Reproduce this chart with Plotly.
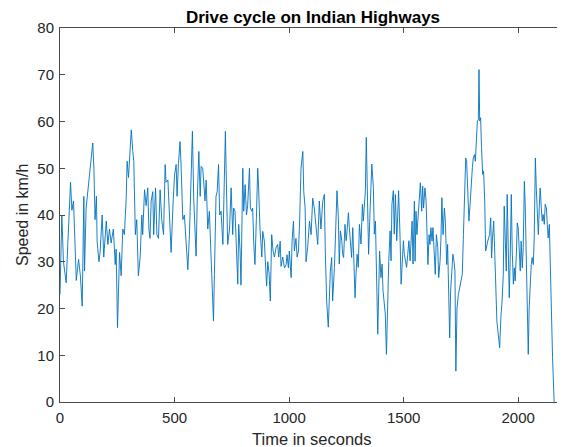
import plotly.graph_objects as go

time_s = [0, 8, 15, 27, 34, 46, 52, 59, 71, 81, 89, 97, 104, 107, 114, 121, 132, 143, 148, 153, 159, 162, 170, 175, 184, 191, 202, 209, 216, 223, 233, 241, 245, 251, 260, 267, 274, 281, 289, 293, 299, 311, 318, 322, 329, 335, 342, 350, 357, 361, 369, 376, 383,
          388, 393, 398, 405, 409, 417, 423, 430, 437, 444, 452, 459, 463, 471, 478, 485, 494, 500, 507, 511, 517, 524, 529, 536, 543, 551, 558, 565, 572, 578, 584, 590, 594, 599, 606, 612, 616, 623, 628, 633, 638, 645, 652, 657, 664, 670, 674, 681, 686, 692, 697, 703, 711, 718, 722, 725, 732, 740, 747, 754, 758, 764, 770, 776,
          780, 786, 790, 793, 798, 802, 808, 814, 819, 827, 831, 837, 841, 846, 851, 857, 863, 867, 873, 881, 885, 892, 897, 902, 907, 913, 918, 924, 930, 936, 943, 950, 955, 961, 965, 972, 980, 987, 991, 997, 1001, 1009, 1013, 1019, 1023, 1030, 1035, 1041, 1046, 1052, 1060, 1064, 1070, 1074, 1081, 1089, 1096, 1103, 1110, 1118, 1125, 1132, 1139, 1147, 1154, 1158, 1164, 1171,
          1176, 1180, 1186, 1190, 1198, 1205, 1209, 1215, 1219, 1224, 1230, 1234, 1238, 1244, 1249, 1253, 1259, 1263, 1267, 1273, 1278, 1282, 1288, 1292, 1297, 1302, 1307, 1314, 1320, 1324, 1329, 1333, 1337, 1343, 1347, 1353, 1361, 1368, 1372, 1377, 1382, 1387, 1391, 1395, 1401, 1406, 1410, 1416, 1420, 1425, 1430, 1435, 1441, 1445, 1449, 1455, 1459, 1464, 1470, 1474, 1478, 1484, 1489, 1493, 1499, 1503, 1507, 1513, 1518, 1523, 1528, 1532, 1537, 1541, 1547,
          1550, 1554, 1558, 1564, 1569, 1573, 1579, 1583, 1587, 1593, 1598, 1602, 1606, 1611, 1615, 1619, 1624, 1628, 1634, 1638, 1643, 1649, 1653, 1659, 1663, 1667, 1672, 1678, 1682, 1688, 1692, 1697, 1701, 1705, 1711, 1715, 1720, 1724, 1728, 1733, 1739, 1745, 1750, 1756, 1761, 1765, 1771, 1775, 1779, 1785, 1790, 1794, 1800, 1804, 1809, 1813, 1817, 1822, 1826, 1829, 1832, 1836, 1840, 1845, 1849, 1854, 1858, 1862, 1867, 1871, 1875, 1880, 1884, 1888, 1893, 1897, 1902, 1907, 1913, 1919,
          1925, 1929, 1935, 1939, 1944, 1948, 1952, 1957, 1961, 1965, 1970, 1974, 1979, 1983, 1987, 1992, 1996, 2000, 2005, 2009, 2013, 2018, 2022, 2027, 2031, 2035, 2040, 2044, 2048, 2053, 2057, 2061, 2066, 2070, 2075, 2079, 2083, 2088, 2092, 2096, 2101, 2105, 2109, 2114, 2118, 2123, 2127, 2131, 2136, 2140, 2144, 2150, 2157]

speed_kmh = [23, 40, 30, 25.5, 33.7, 47, 41, 43, 26, 30.5, 27, 20.5, 44, 28, 41.5, 45, 50, 55.4, 50, 39, 44, 34.4, 30, 32, 40, 31, 38.7, 33.7, 37, 34, 37, 29.4, 32.7, 15.9, 32, 27, 37, 35.8, 43.6, 51.5, 48, 58.2, 53.6, 51.5, 35.8, 39, 27, 31, 40, 35.8, 45.4, 42, 45.8,
             37, 35, 43, 45, 35.8, 45.8, 35.8, 35, 45.4, 39, 35.8, 50.8, 47, 47.5, 39, 32, 43, 48.6, 50.8, 44, 51, 55.7, 50, 39, 40, 34.4, 28.3, 35.8, 50, 57.9, 43, 34.4, 31.2, 43, 53.6, 44, 50.4, 50, 45.8, 43, 47.5, 37, 40.8, 34.4, 27.3, 17.3, 27.3, 44, 45, 50.8, 40, 40.8, 33.7, 54.3, 57.9, 50, 33.7, 37, 45.8, 35.8, 41.5, 40.8, 34.4, 25.2,
             38, 32.3, 25, 37, 50, 40.8, 46.5, 40, 42, 50, 41.5, 40.8, 41.5, 33.7, 29.4, 39, 50, 45.8, 37, 31, 36.5, 34.4, 28.7, 24.8, 30, 27.3, 21.6, 35.8, 32.3, 31, 33, 33.7, 31, 34.4, 29, 31, 28.7, 29.4, 31.5, 28.7, 32.3, 26.6, 34.4, 38.7, 32.3, 35, 31, 32.3, 38.7, 50, 53.6, 45, 41.5, 30, 33, 38.7, 35.8, 43.6, 41.5, 38, 33.7, 43, 37, 43, 44.4, 32.3, 21.6, 16,
             24.5, 28, 30.9, 21.6, 28.8, 40.9, 45.2, 39.5, 29.5, 36.6, 34.5, 31.6, 30.9, 38, 34.5, 36.6, 40.5, 37.3, 33.8, 30.9, 37.3, 29.5, 22.3, 27.3, 31.6, 28.8, 38, 33.8, 42.3, 38.7, 43, 45.2, 56.6, 43, 31.6, 40.2, 50.9, 45.9, 35.9, 38.7, 23.1, 14.5, 23.1, 32.3, 26.6, 29.5, 23.8, 20.2, 18.8, 10.2, 21.6, 30.2, 36.6, 30.2, 42.3, 45.2, 35.9, 44.4, 34.5, 39.5, 45.2, 35.9, 25.2, 28.8, 34.5, 31.6, 30.2, 28.8, 31.6, 34.5, 30.2, 33, 38.7, 29.5, 43,
             30.1, 40.8, 35.8, 40.1, 44.4, 46.9, 40.8, 46.2, 41.5, 45.8, 43, 37.3, 29.4, 35.8, 33.7, 37.3, 34.4, 37.3, 31.6, 27.3, 35.8, 33, 26.6, 30.1, 35.1, 43.7, 35.8, 41.5, 38.7, 29.4, 33.7, 24.4, 13.7, 23.7, 27.3, 31.6, 30.1, 28, 6.6, 20.1, 23, 24.4, 25.9, 27.3, 35.8, 40.8, 52.2, 51.5, 47.2, 38.7, 42.2, 46.5, 50.1, 52.2, 52.9, 51.5, 56.5, 60.1, 60.4, 71.1, 60.1, 60.8, 54.4, 48.7, 49.4, 43, 32.3, 33.7, 34.4, 35.1, 35.8, 39.4, 30.8, 35.1, 38.7, 33, 24.4, 17.3, 14.5, 11.6,
             18.7, 20.9, 27.3, 41.9, 34.4, 28, 44.4, 32.3, 22.3, 30.1, 44.4, 32.3, 25.2, 28.7, 25.9, 31.6, 38.3, 37.3, 31.6, 28, 34.4, 28.7, 33, 47.2, 41.5, 30.9, 17.3, 10.2, 20.2, 27.3, 29.4, 30.9, 29.4, 35.1, 52.2, 45.8, 41.5, 35.8, 41.5, 45.8, 41.5, 38.7, 40.1, 38, 42.3, 41.5, 38, 35.1, 38, 28, 20.2, 9.5, 0]

x_ticks = [0, 500, 1000, 1500, 2000]
y_ticks = [0, 10, 20, 30, 40, 50, 60, 70, 80]

title_text = "Drive cycle on Indian Highways"
x_label = "Time in seconds"
y_label = "Speed in km/h"

FONT = "Liberation Sans, Arial, Helvetica, sans-serif"
AX = "#4a4a4a"
TXT = "#262626"

# The page adds an 8 px body margin, so the figure is sized to fill the rest.
W, H = 557, 439
ML, MR, MT, MB = 52, 1, 20, 45
PH = H - MT - MB

fig = go.Figure()
fig.add_trace(go.Scatter(x=time_s, y=speed_kmh, mode="lines",
                         line=dict(color="#0072BD", width=0.9), showlegend=False))

axis_common = dict(showgrid=False, zeroline=False, showline=True, linecolor=AX, linewidth=1,
                   mirror="ticks", ticks="inside", ticklen=5, tickcolor=AX, automargin=False,
                   tickfont=dict(family=FONT, size=15, color=TXT))

fig.update_layout(
    width=W, height=H,
    margin=dict(l=ML, r=MR, t=MT, b=MB, pad=0),
    paper_bgcolor="white", plot_bgcolor="white",
    title=dict(text="<b>" + title_text + "</b>", x=305 / W, xanchor="center", xref="container",
               y=1 - 9 / H, yanchor="middle", yref="container",
               font=dict(family=FONT, size=17, color="black")),
    xaxis=dict(range=[0, 2200], tickvals=x_ticks, ticktext=[str(v) for v in x_ticks],
               ticklabelstandoff=2, **axis_common),
    yaxis=dict(range=[0, 80], tickvals=y_ticks, ticktext=[str(v) for v in y_ticks],
               ticklabelstandoff=2, **axis_common),
    annotations=[
        dict(text=x_label, xref="paper", yref="paper", x=0.5, y=-(431 - (MT + PH)) / PH,
             xanchor="center", yanchor="middle", showarrow=False,
             font=dict(family=FONT, size=16.5, color=TXT)),
        dict(text=y_label, xref="paper", yref="paper", x=(14 - ML) / 504, y=0.5,
             xanchor="center", yanchor="middle", textangle=-90, showarrow=False,
             font=dict(family=FONT, size=16, color=TXT)),
    ],
)

fig.write_html("out.html")
